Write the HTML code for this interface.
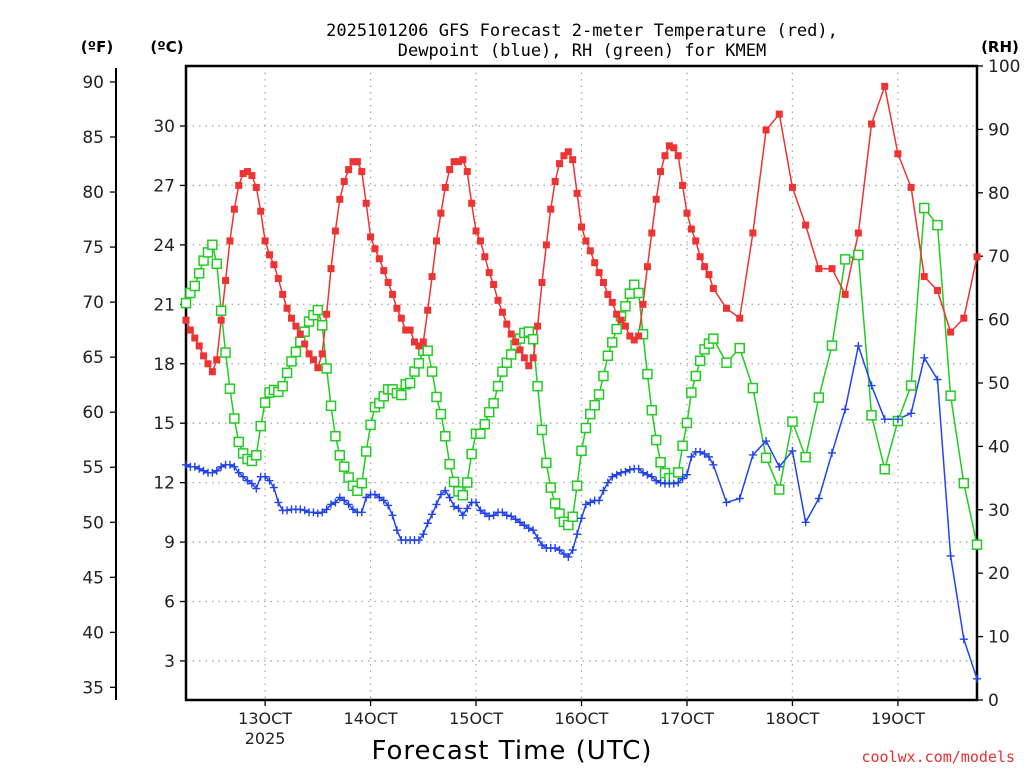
<!DOCTYPE html>
<html><head><meta charset="utf-8"><style>
html,body{margin:0;padding:0;background:#fff;}
svg{display:block;font-family:"DejaVu Sans","Liberation Sans",sans-serif;}
</style></head><body>
<svg id="chart" width="1024" height="768" viewBox="0 0 1024 768" xmlns="http://www.w3.org/2000/svg">
<text x="582" y="36" font-size="17" text-anchor="middle" fill="#000" font-family="DejaVu Sans Mono, Liberation Mono, monospace">2025101206 GFS Forecast 2-meter Temperature (red),</text>
<text x="582" y="56" font-size="17" text-anchor="middle" fill="#000" font-family="DejaVu Sans Mono, Liberation Mono, monospace">Dewpoint (blue), RH (green) for KMEM</text>
<text x="97" y="52" font-size="15" font-weight="bold" text-anchor="middle">(ºF)</text>
<text x="167" y="52" font-size="15" font-weight="bold" text-anchor="middle">(ºC)</text>
<text x="1000" y="52" font-size="15" font-weight="bold" text-anchor="middle">(RH)</text>
<text x="512" y="759" font-size="26" text-anchor="middle" font-family="DejaVu Sans, sans-serif" letter-spacing="1">Forecast Time (UTC)</text>
<text x="1015" y="762" font-size="15" text-anchor="end" fill="#e83030" font-family="DejaVu Sans Mono, Liberation Mono, monospace">coolwx.com/models</text>
<g id="grid"></g><g id="axes"></g><g id="series"></g>
</svg>
<script>
// ---- data (hours from 2025-10-12 06Z) ----
const tempHourly = [20.2,19.7,19.3,18.9,18.4,18.0,17.6,18.2,20.2,22.2,24.2,25.8,27.0,27.6,27.7,27.5,26.9,25.7,24.2,23.5,23.0,22.3,21.5,20.8,20.3,19.9,19.5,19.0,18.5,18.2,17.8,18.5,20.5,22.8,24.7,26.3,27.2,27.8,28.2,28.2,27.7,26.1,24.4,23.8,23.3,22.7,22.1,21.5,20.8,20.3,19.7,19.7,19.1,18.9,19.1,20.7,22.4,24.2,25.6,26.9,27.8,28.2,28.2,28.3,27.7,26.1,24.7,24.2,23.4,22.6,22.0,21.2,20.6,20.0,19.5,19.1,18.7,18.3,17.9,18.3,19.9,22.1,24.0,25.8,27.2,28.1,28.5,28.7,28.3,26.6,24.9,24.2,23.7,23.1,22.6,22.1,21.5,21.1,20.5,20.2,19.9,19.4,19.2,19.4,21.0,22.9,24.6,26.3,27.7,28.5,29.0,28.9,28.5,27.0,25.6,24.8,24.2,23.4,22.9,22.5,21.8];
const temp3h = [20.8,20.3,24.6,29.8,30.6,26.9,25.0,22.8,22.8,21.5,24.6,30.1,32.0,28.6,26.9,22.4,21.7,19.6,20.3,23.4];
const dewHourly = [12.9,12.8,12.8,12.7,12.6,12.5,12.5,12.6,12.8,12.9,12.9,12.8,12.5,12.3,12.1,11.95,11.7,12.3,12.3,12.1,11.75,11.0,10.6,10.6,10.65,10.65,10.65,10.6,10.5,10.5,10.45,10.5,10.65,10.9,11.0,11.25,11.1,10.9,10.65,10.5,10.5,11.25,11.4,11.4,11.25,11.1,10.85,10.35,9.6,9.1,9.1,9.1,9.1,9.1,9.4,9.95,10.4,10.9,11.4,11.6,11.25,10.8,10.7,10.35,10.7,11.0,11.0,10.6,10.45,10.3,10.35,10.5,10.5,10.35,10.3,10.15,10.0,9.85,9.7,9.6,9.2,8.85,8.7,8.7,8.7,8.6,8.4,8.25,8.6,9.4,10.2,10.9,11.0,11.1,11.1,11.6,12.0,12.3,12.4,12.5,12.55,12.65,12.7,12.7,12.5,12.4,12.3,12.1,12.0,11.95,11.95,11.95,12.0,12.2,12.4,13.3,13.55,13.55,13.45,13.3,12.9];
const dew3h = [11.0,11.2,13.4,14.1,12.8,13.6,10.0,11.2,13.5,15.7,18.9,16.9,15.2,15.2,15.5,18.3,17.2,8.3,4.1,2.1];
const rhHourly = [62.6,64.2,65.3,67.3,69.3,70.6,71.8,68.8,61.4,54.8,49.1,44.4,40.7,38.9,38.0,37.7,38.6,43.2,46.9,48.5,48.9,48.6,49.5,51.6,53.4,54.9,56.5,58.1,59.7,60.7,61.5,59.1,52.3,46.4,41.6,38.6,36.8,35.1,33.8,33.0,34.2,39.2,43.4,46.2,46.8,47.9,49.0,49.0,48.4,48.1,49.8,50.0,51.8,53.1,55.1,55.1,51.8,47.8,45.1,41.6,37.2,34.4,32.9,32.3,34.3,38.8,42.0,42.0,43.5,45.4,46.8,49.5,51.8,53.2,54.5,56.0,57.0,57.9,58.1,56.9,49.5,42.6,37.4,33.5,31.0,29.4,28.1,27.6,28.9,33.8,39.3,42.9,45.1,46.5,48.2,51.1,54.3,56.4,58.5,60.5,62.1,64.1,65.5,64.2,57.7,51.4,45.7,41.0,37.5,35.8,35.0,35.0,35.9,40.1,43.7,48.5,51.1,53.5,55.3,56.2,57.0];
const rh3h = [53.2,55.5,49.2,38.2,33.2,43.9,38.3,47.7,55.9,69.5,70.2,44.9,36.4,44.0,49.6,77.6,74.9,48.0,34.2,24.5];
const dayLabels = ["13OCT","14OCT","15OCT","16OCT","17OCT","18OCT","19OCT"];
const dayHours = [18,42,66,90,114,138,162];
const fTicks = [35,40,45,50,55,60,65,70,75,80,85,90];
const cTicks = [3,6,9,12,15,18,21,24,27,30];
const rhTicks = [0,10,20,30,40,50,60,70,80,90,100];

// ---- scales ----
const X0=186, X1=977, Y0=66, Y1=700, HMAX=180;
const xs = h => X0 + (X1-X0)*h/HMAX;
const yc = c => 126 + (30-c)*(59.44/3);
const yf = f => yc((f-32)*5/9);
const yr = r => Y1 - (Y1-Y0)*r/100;

const NS="http://www.w3.org/2000/svg";
function mk(tag, attrs, parent){const e=document.createElementNS(NS,tag);for(const k in attrs)e.setAttribute(k,attrs[k]);parent.appendChild(e);return e;}
const grid=document.getElementById('grid'), axes=document.getElementById('axes'), ser=document.getElementById('series');

function hoursOf(hourly, h3){const hs=[];for(let i=0;i<hourly.length;i++)hs.push(i);for(let j=0;j<h3.length;j++)hs.push(123+3*j);return hs;}
const tempAll = tempHourly.concat(temp3h), dewAll = dewHourly.concat(dew3h), rhAll = rhHourly.concat(rh3h);
const hrs = hoursOf(tempHourly, temp3h);

// grid
cTicks.forEach(c=>{
  const g=mk('line',{x1:X0,x2:X1,y1:yc(c),y2:yc(c),stroke:'#aaa','stroke-width':1.3,'stroke-dasharray':'1.5,5'},grid);
  
  
});
dayHours.forEach(h=>{
  const g=mk('line',{x1:xs(h),x2:xs(h),y1:Y0,y2:Y1,stroke:'#aaa','stroke-width':1.3,'stroke-dasharray':'1.5,5'},grid);
  
  
});

// frame
const fr=mk('path',{d:`M${X0},${Y0}H${X1}V${Y1}H${X0}Z`,fill:'none',stroke:'#000','stroke-width':2.5},axes);


// F axis
const fa=mk('line',{x1:116,x2:116,y1:68,y2:700,stroke:'#000','stroke-width':2},axes);


fTicks.forEach(f=>{
  mk('line',{x1:110,x2:116,y1:yf(f),y2:yf(f),stroke:'#000','stroke-width':1.3},axes);
  const t=mk('text',{x:104,y:yf(f)+6,'font-size':17,'text-anchor':'end',fill:'#222'},axes);
  t.textContent=f;
  
  
});
cTicks.forEach(c=>{
  mk('line',{x1:180,x2:186,y1:yc(c),y2:yc(c),stroke:'#000','stroke-width':1.3},axes);
  const t=mk('text',{x:175,y:yc(c)+6,'font-size':17,'text-anchor':'end',fill:'#222'},axes);
  t.textContent=c;
  
  
});
rhTicks.forEach(r=>{
  mk('line',{x1:977,x2:983,y1:yr(r),y2:yr(r),stroke:'#000','stroke-width':1.3},axes);
  const t=mk('text',{x:988,y:yr(r)+6,'font-size':17,'text-anchor':'start',fill:'#222'},axes);
  t.textContent=r;
  
  
});
dayHours.forEach((h,i)=>{
  mk('line',{x1:xs(h),x2:xs(h),y1:700,y2:706,stroke:'#000','stroke-width':1.3},axes);
  const t=mk('text',{x:xs(h),y:724,'font-size':16,'text-anchor':'middle',fill:'#222'},axes);
  t.textContent=dayLabels[i];
  
  
});
const yrT=mk('text',{x:xs(dayHours[0]),y:744,'font-size':16,'text-anchor':'middle',fill:'#222'},axes);
yrT.textContent='2025';



// series
function drawLine(vals, yfn, color, name){
  const pts=vals.map((v,i)=>xs(hrs[i]).toFixed(1)+','+yfn(v).toFixed(1)).join(' ');
  const l=mk('polyline',{points:pts,fill:'none',stroke:color,'stroke-width':1.5},ser);
  
  
}
drawLine(rhAll, yr, '#22cc22', 'rh-line');
drawLine(dewAll, yc, '#2244ee', 'dewpoint-line');
drawLine(tempAll, yc, '#ee3333', 'temperature-line');
rhAll.forEach((v,i)=>{
  const m=mk('rect',{x:xs(hrs[i])-4.5,y:yr(v)-4.5,width:9,height:9,fill:'#fff',stroke:'#22cc22','stroke-width':1.5},ser);
  
  
});
dewAll.forEach((v,i)=>{
  const x=xs(hrs[i]), y=yc(v);
  const m=mk('path',{d:`M${x-4},${y}H${x+4}M${x},${y-4}V${y+4}`,stroke:'#2244ee','stroke-width':1.4},ser);
  
  
});
tempAll.forEach((v,i)=>{
  const m=mk('rect',{x:xs(hrs[i])-3.5,y:yc(v)-3.5,width:7,height:7,fill:'#ee3333'},ser);
  
  
});
</script>
</body></html>
